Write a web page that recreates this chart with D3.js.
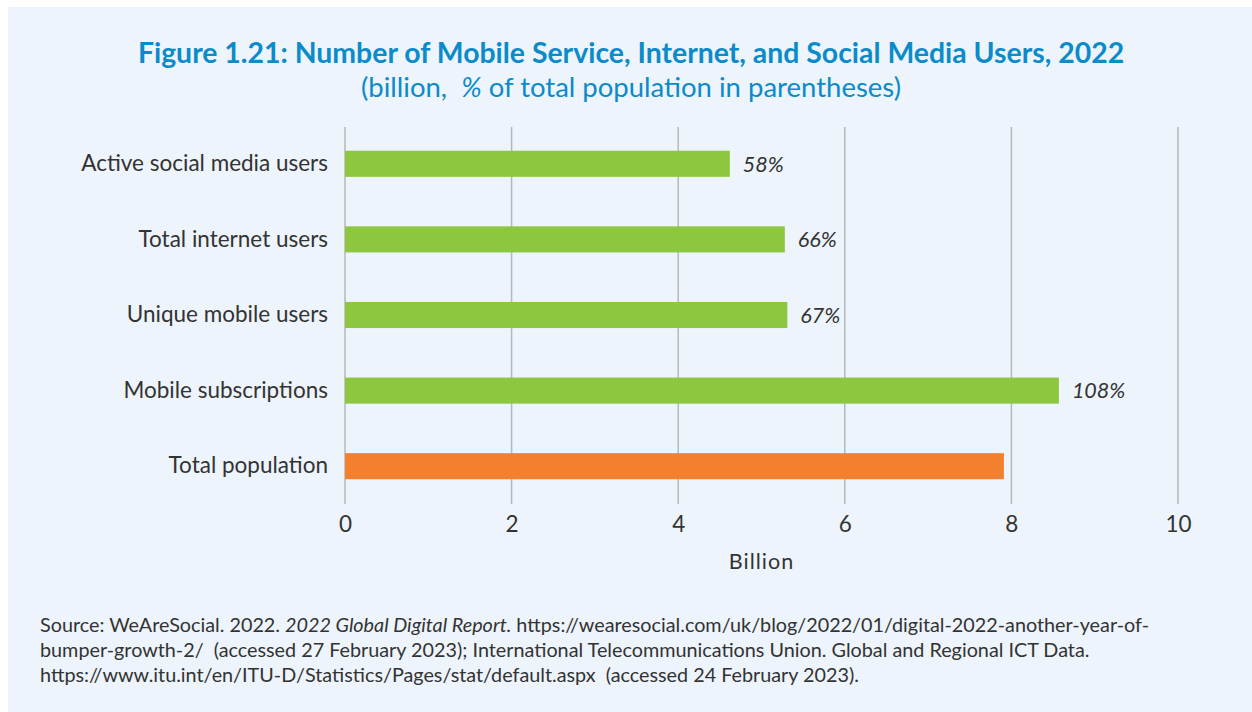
<!DOCTYPE html>
<html>
<head>
<meta charset="utf-8">
<script src="https://cdn.jsdelivr.net/npm/d3@7"></script>
<style>
  body { margin: 0; background: #fff; }
  svg { display: block; }
  text { white-space: pre; }
</style>
</head>
<body>
<svg id="chart" width="1252" height="712"></svg>
<script>
// categories top to bottom
var categories = ["Active social media users", "Total internet users", "Unique mobile users",
    "Mobile subscriptions", "Total population"];
var values = [4.62, 5.28, 5.31, 8.57, 7.91];   // billion
var shares = ["58%", "66%", "67%", "108%", ""];
var xTicks = [0, 2, 4, 6, 8, 10];

var font = "Lato, 'Open Sans', sans-serif";
var svg = d3.select("#chart");

svg.append("rect")
    .attr("x", 8).attr("y", 7)
    .attr("width", 1244).attr("height", 705)
    .attr("fill", "#edf4fb");

var margin = {left: 345, right: 74, top: 126, bottom: 208};
var x = d3.scaleLinear().domain([0, 10]).range([margin.left, 1252 - margin.right]);
var y = d3.scaleBand().domain(categories).range([margin.top, 712 - margin.bottom])
    .paddingInner(0.655).paddingOuter(0.3275);

// title
svg.append("text")
    .attr("x", 631).attr("y", 63)
    .attr("text-anchor", "middle")
    .style("font-family", font).style("font-weight", "bold").style("font-size", "28.4px")
    .style("fill", "#0b8bc9")
    .text("Figure 1.21: Number of Mobile Service, Internet, and Social Media Users, 2022");
var sub = svg.append("text")
    .attr("x", 631).attr("y", 97)
    .attr("text-anchor", "middle")
    .style("font-family", font).style("font-size", "27.5px")
    .style("fill", "#0b8bc9");
sub.append("tspan").text("(billion,  ");
sub.append("tspan").style("font-style", "italic").text("%");
sub.append("tspan").text(" of total population in parentheses)");

// grid lines
svg.append("g").selectAll("line")
    .data(xTicks)
    .enter().append("line")
    .attr("x1", (d) => x(d)).attr("x2", (d) => x(d))
    .attr("y1", 127).attr("y2", 504)
    .style("stroke", "#b4b8bd").style("stroke-width", 1.5);

// bars
svg.append("g").selectAll("rect")
    .data(categories)
    .enter().append("rect")
    .attr("x", x(0))
    .attr("y", (d) => y(d))
    .attr("width", (d, i) => x(values[i]) - x(0))
    .attr("height", y.bandwidth())
    .style("fill", (d, i) => i == categories.length - 1 ? "#f2802e" : "#8dc63f");

// value labels
svg.append("g").selectAll("text")
    .data(categories)
    .enter().append("text")
    .attr("x", (d, i) => x(values[i]) + 13)
    .attr("y", (d) => y(d) + y.bandwidth() / 2)
    .attr("dy", "0.36em")
    .style("font-family", font).style("font-style", "italic")
    .style("font-size", "21.5px")
    .style("fill", "#333")
    .text((d, i) => shares[i]);

// category labels
var yAxis = svg.append("g")
    .attr("transform", "translate(" + (margin.left - 17) + ",0)")
    .call(d3.axisLeft(y).tickSize(0).tickPadding(0));
yAxis.select(".domain").remove();
yAxis.selectAll("text")
    .style("font-family", font).style("font-size", "22.5px").style("fill", "#333");

// x axis
var xAxis = svg.append("g")
    .attr("transform", "translate(0,504)")
    .call(d3.axisBottom(x).tickValues(xTicks).tickSize(0).tickPadding(12));
xAxis.select(".domain").remove();
xAxis.selectAll("text")
    .style("font-family", font).style("font-size", "22.5px").style("fill", "#333");

svg.append("text")
    .attr("x", (x(0) + x(10)) / 2).attr("y", 569)
    .attr("text-anchor", "middle")
    .style("font-family", font).style("font-size", "21.5px").style("fill", "#333")
    .style("letter-spacing", "1px")
    .text("Billion");

// source note
var note = svg.append("text")
    .style("font-family", font).style("font-size", "19.8px").style("fill", "#333");
var line1 = note.append("tspan").attr("x", 40).attr("y", 632);
line1.append("tspan").text("Source: WeAreSocial. 2022. ");
line1.append("tspan").style("font-style", "italic").text("2022 Global Digital Report.");
line1.append("tspan").text(" https://wearesocial.com/uk/blog/2022/01/digital-2022-another-year-of-");
note.append("tspan").attr("x", 40).attr("y", 657)
    .text("bumper-growth-2/  (accessed 27 February 2023); International Telecommunications Union. Global and Regional ICT Data.");
note.append("tspan").attr("x", 40).attr("y", 682)
    .text("https://www.itu.int/en/ITU-D/Statistics/Pages/stat/default.aspx  (accessed 24 February 2023).");
</script>
</body>
</html>
